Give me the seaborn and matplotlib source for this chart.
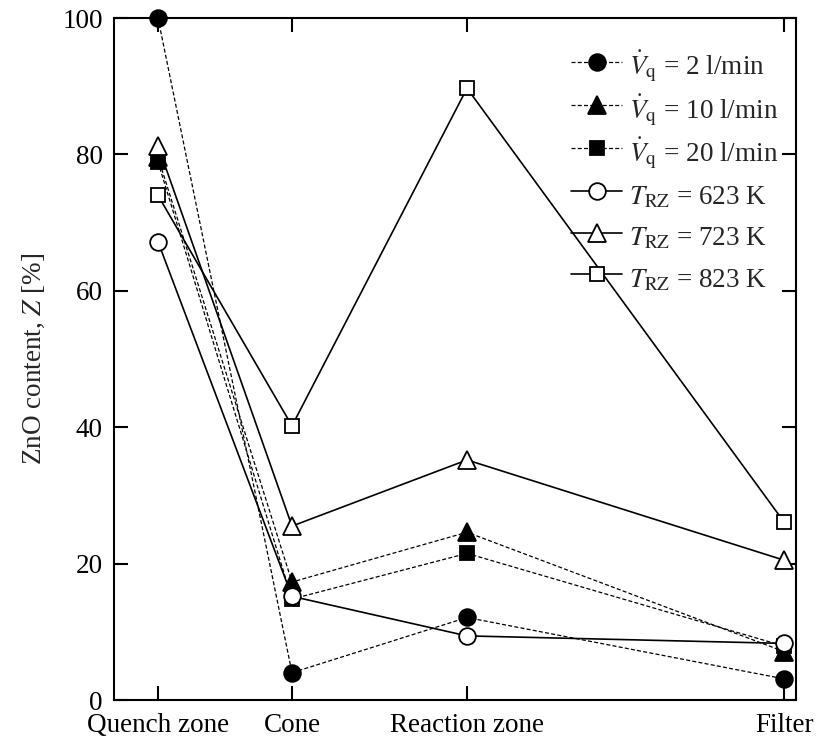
import matplotlib
matplotlib.use("Agg")
import matplotlib.pyplot as plt
import seaborn as sns
import pandas as pd

# Sampling locations along the reactor and their position on the x axis
locations = ["Quench zone", "Cone", "Reaction zone", "Filter"]
positions = [0.0, 1.0, 2.306, 4.672]

# ZnO content [%] at each location
zno_v2 = [100.0, 4.0, 12.1, 3.1]
zno_v10 = [79.6, 17.3, 24.6, 7.1]
zno_v20 = [78.9, 14.8, 21.5, 7.9]
zno_t623 = [67.2, 15.2, 9.4, 8.3]
zno_t723 = [81.3, 25.5, 35.2, 20.5]
zno_t823 = [74.0, 40.2, 89.7, 26.1]

series_labels = [
    r"$\dot{V}_{\mathrm{q}}$ = 2 l/min",
    r"$\dot{V}_{\mathrm{q}}$ = 10 l/min",
    r"$\dot{V}_{\mathrm{q}}$ = 20 l/min",
    r"$T_{\mathrm{RZ}}$ = 623 K",
    r"$T_{\mathrm{RZ}}$ = 723 K",
    r"$T_{\mathrm{RZ}}$ = 823 K",
]
series_values = [zno_v2, zno_v10, zno_v20, zno_t623, zno_t723, zno_t823]

sns.set_theme(style="ticks")
plt.rcParams["font.family"] = ["Liberation Serif", "DejaVu Serif"]
plt.rcParams["mathtext.fontset"] = "stix"
plt.rcParams["font.size"] = 19

FS = 19.5

fig = plt.figure(figsize=(8.18, 7.45), dpi=100)
ax = fig.add_axes([0.1394, 0.0604, 0.8337, 0.9154])

dashed = (0, (3.2, 1.8))
styles = [
    dict(marker="o", mfc="black", ms=12, ls=dashed, lw=0.9),
    dict(marker="^", mfc="black", ms=12.5, ls=dashed, lw=0.9),
    dict(marker="s", mfc="black", ms=10, ls=dashed, lw=0.9),
    dict(marker="o", mfc="white", ms=12, ls="-", lw=1.2),
    dict(marker="^", mfc="white", ms=12.5, ls="-", lw=1.2),
    dict(marker="s", mfc="white", ms=10, ls="-", lw=1.2),
]

for label, values, st in zip(series_labels, series_values, styles):
    df = pd.DataFrame({"pos": positions, "zno": values})
    sns.lineplot(
        data=df, x="pos", y="zno", ax=ax, color="black",
        marker=st["marker"], markerfacecolor=st["mfc"], markeredgecolor="black",
        markeredgewidth=1.3, markersize=st["ms"], linestyle=st["ls"],
        linewidth=st["lw"], label=label, clip_on=False, zorder=3,
    )

ax.set_xlim(-0.328, 4.761)
ax.set_ylim(0, 100)
ax.set_xticks(positions)
ax.set_xticklabels(locations)
ax.set_yticks([0, 20, 40, 60, 80, 100])
ax.set_xlabel("")
ax.set_ylabel("ZnO content, $Z$ [%]", fontsize=FS, labelpad=11)

for side in ["left", "right", "top", "bottom"]:
    ax.spines[side].set_visible(True)
    ax.spines[side].set_linewidth(1.5)
    ax.spines[side].set_color("black")
ax.tick_params(axis="both", which="major", direction="in", length=10, width=1.5,
               top=True, right=True, colors="black", labelsize=FS)
ax.tick_params(axis="y", pad=8)
ax.tick_params(axis="x", pad=9)

leg = ax.legend(loc="upper left", bbox_to_anchor=(0.67, 0.955), frameon=False,
                borderpad=0, borderaxespad=0, handlelength=1.9, handletextpad=0.25,
                handleheight=1.55, labelspacing=0.28, fontsize=FS)

fig.savefig("out.png", dpi=100)
